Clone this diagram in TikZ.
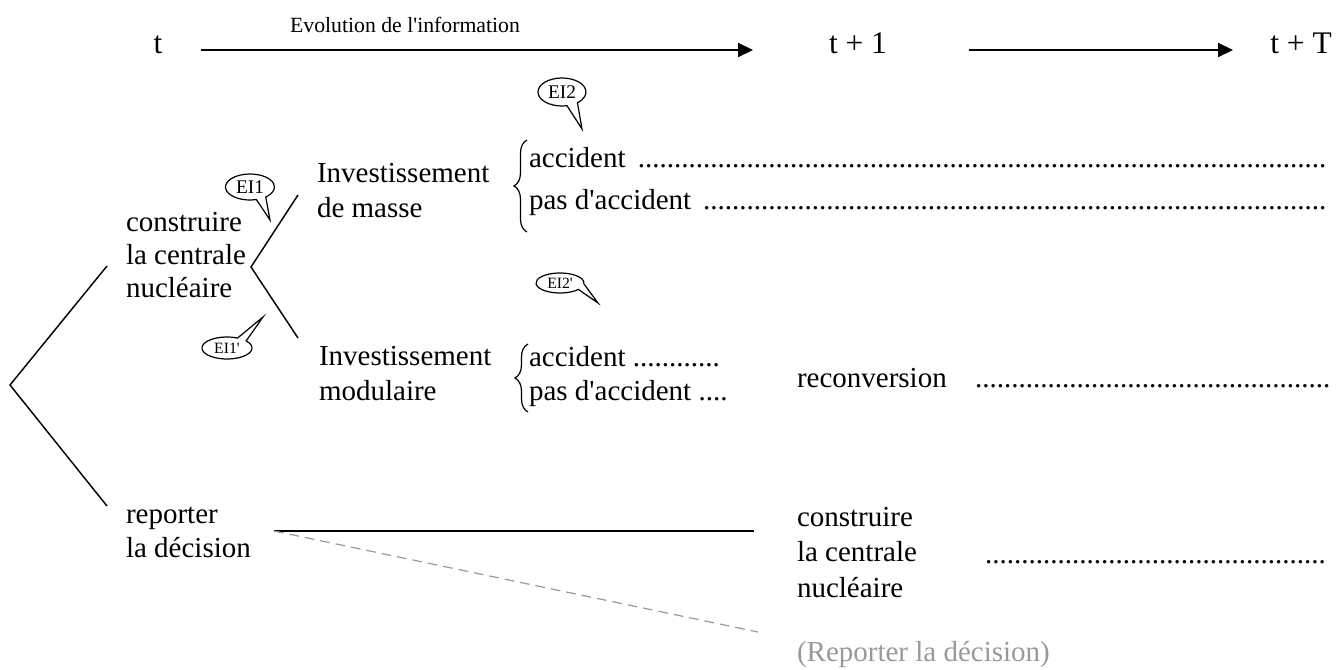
\documentclass[tikz,border=0pt]{standalone}
\usepackage{fontspec}
\setmainfont{Liberation Serif}
\usetikzlibrary{arrows.meta, calc, positioning, decorations.pathreplacing}

\definecolor{grisclair}{HTML}{999999}
% ligne de points jusqu'a une largeur donnee
\newcommand{\ligne}[2]{\makebox[#1][l]{#2\leaders\hbox{.}\hfill}}
\newcommand{\apos}{\textquotesingle}

\begin{document}
\begin{tikzpicture}[x=0.4138pt, y=-0.4138pt,
  >={Triangle[length=6.2pt, width=5.8pt]},
  every node/.style={inner sep=0pt, outer sep=0pt, font=\fontsize{12}{14.3}\selectfont},
  choix/.style={anchor=base west, align=left},
  temps/.style={anchor=base, font=\fontsize{13}{15}\selectfont},
  bulle/.style={font=\fontsize{8}{8}\selectfont},
  bullep/.style={font=\fontsize{6.5}{6.5}\selectfont},
  branche/.style={line width=0.6pt},
  accolade/.style={decorate, decoration={brace, amplitude=5.4pt}, line width=0.5pt}]
  \useasboundingbox (0,0) rectangle (1343,669);

  %% axe du temps
  \node[temps] (t0) at (158,53) {t};
  \node[temps] (t1) at (858,53) {t + 1};
  \node[temps] (tT) at (1301,53) {t + T};
  \node[font=\fontsize{9}{10}\selectfont] (evol) at (405,25) {Evolution de l\apos information};
  \coordinate (a0) at (201,50);
  \coordinate (a1) at (753,50);
  \coordinate (a2) at (969,50);
  \coordinate (a3) at (1233,50);
  \draw[->, line width=0.8pt] (a0) -- (a1);
  \draw[->, line width=0.8pt] (a2) -- (a3);

  %% premier choix (base = derniere ligne)
  \coordinate (racine) at (10,385);
  \coordinate (r1) at (107,266);
  \coordinate (r2) at (107,506);
  \draw[branche] (r1) -- (racine) -- (r2);
  \node[choix, font=\fontsize{12}{13.5}\selectfont] (construire) at (126,297) {construire\\la centrale\\nucléaire};
  \node[choix, font=\fontsize{12}{14}\selectfont] (reporter) at (126,557) {reporter\\la décision};

  %% type d'investissement
  \coordinate (noeud) at (251,267);
  \coordinate (m1) at (298,195);
  \coordinate (m2) at (298,338);
  \draw[branche] (m1) -- (noeud) -- (m2);
  \node[choix] (masse) at (317,217) {Investissement\\de masse};
  \node[choix] (modul) at (319,400) {Investissement\\modulaire};

  %% accident ou non
  \draw[accolade] (527,232) -- (527,140);
  \node[anchor=base west] (acc1) at (529,167) {\ligne{331pt}{accident }};
  \node[anchor=base west] (pas1) at (529,209) {\ligne{331pt}{pas d\apos accident }};
  \draw[accolade] (528,412) -- (528,344);
  \node[anchor=base west] (acc2) at (529,366) {accident ............};
  \node[anchor=base west] (pas2) at (529,400) {pas d\apos accident ....};
  \node[anchor=base west] (reconv) at (797,387) {reconversion};
  \node[anchor=base west] (pts3) at (975,387) {\ligne{147pt}{}};

  %% report de la decision
  \coordinate (d0) at (274,531);
  \coordinate (d1) at (754,531);
  \coordinate (d2) at (758,632);
  \draw[branche] (d0) -- (d1);
  \draw[grisclair, line width=0.5pt, dash pattern=on 4pt off 2.5pt] (d0) -- (d2);
  \node[choix, font=\fontsize{12}{14.5}\selectfont] (construire2) at (797,597) {construire\\la centrale\\nucléaire};
  \node[anchor=base west] (pts4) at (985,563) {\ligne{143pt}{}};
  \node[anchor=base west, text=grisclair] (reporter2) at (797,661) {(Reporter la décision)};

  %% bulles EI
  \coordinate (b1) at (250,187);
  \coordinate (q1) at (270,220);
  \draw[line width=0.5pt] ($(b1)+(75:24.5 and 13)$) arc[start angle=75, end angle=410, x radius=24.5, y radius=13] -- (q1) -- cycle;
  \node[bulle] (ei1) at (b1) {EI1};

  \coordinate (b2) at (562,92);
  \coordinate (q2) at (582,129);
  \draw[line width=0.5pt] ($(b2)+(78:24 and 14)$) arc[start angle=78, end angle=410, x radius=24, y radius=14] -- (q2) -- cycle;
  \node[bulle] (ei2) at (b2) {EI2};

  \coordinate (b3) at (227,348);
  \coordinate (q3) at (263,317);
  \draw[line width=0.5pt] ($(b3)+(-40:25 and 11)$) arc[start angle=-40, end angle=295, x radius=25, y radius=11] -- (q3) -- cycle;
  \node[bullep] (ei1p) at (b3) {EI1\apos};

  \coordinate (b4) at (560,283);
  \coordinate (q4) at (598,303);
  \draw[line width=0.5pt] ($(b4)+(40:24 and 10)$) arc[start angle=40, end angle=365, x radius=24, y radius=10] -- (q4) -- cycle;
  \node[bullep] (ei2p) at (b4) {EI2\apos};
\end{tikzpicture}
\end{document}
